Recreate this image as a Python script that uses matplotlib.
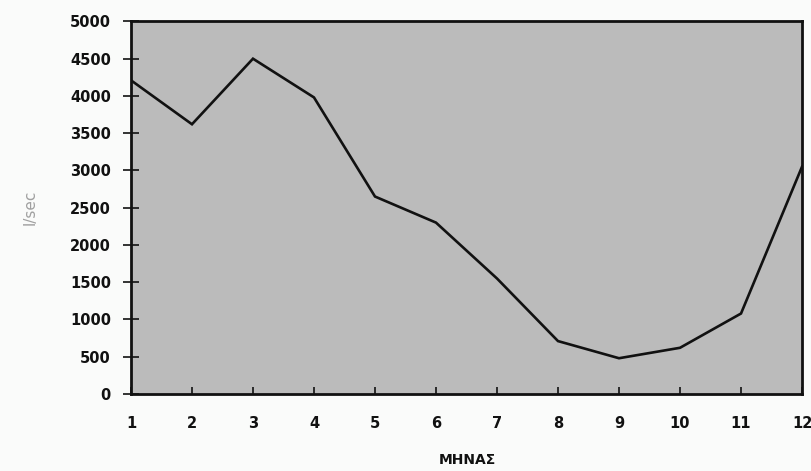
import matplotlib.pyplot as plt

plt.rcParams["font.family"] = ["DejaVu Sans"]

# monthly discharge (l/sec)
months = [1, 2, 3, 4, 5, 6, 7, 8, 9, 10, 11, 12]
flow = [4210, 3620, 4500, 3980, 2650, 2300, 1550, 710, 480, 620, 1080, 3050]
yticks = [0, 500, 1000, 1500, 2000, 2500, 3000, 3500, 4000, 4500, 5000]

fig = plt.figure(figsize=(8.12, 4.71), dpi=100)
fig.patch.set_facecolor("#fafbfa")
ax = fig.add_axes([0.1613, 0.1635, 0.8264, 0.7910])
ax.set_facecolor("#bbbbbb")

ax.plot(months, flow, color="#111111", linewidth=1.9, solid_joinstyle="miter")

ax.set_xlim(1, 12)
ax.set_ylim(0, 5000)
ax.set_xticks(months)
ax.set_yticks(yticks)

for s in ax.spines.values():
    s.set_linewidth(2.0)
    s.set_color("#111111")

ax.tick_params(axis="x", direction="in", length=5, width=1.2, pad=16,
               labelsize=10.5, colors="#111111")
ax.tick_params(axis="y", direction="inout", length=11, width=1.2, pad=9,
               labelsize=10.5, colors="#111111")
for lab in ax.get_xticklabels() + ax.get_yticklabels():
    lab.set_fontweight("bold")

fig.text(0.575, 0.024, "ΜΗΝΑΣ", ha="center", va="center", fontsize=10,
         fontweight="bold", color="#111111")
fig.text(0.037, 0.56, "l/sec", ha="center", va="center", rotation=90,
         fontsize=11, color="#a0a0a0")

fig.savefig("out.png", dpi=100, facecolor=fig.get_facecolor())
